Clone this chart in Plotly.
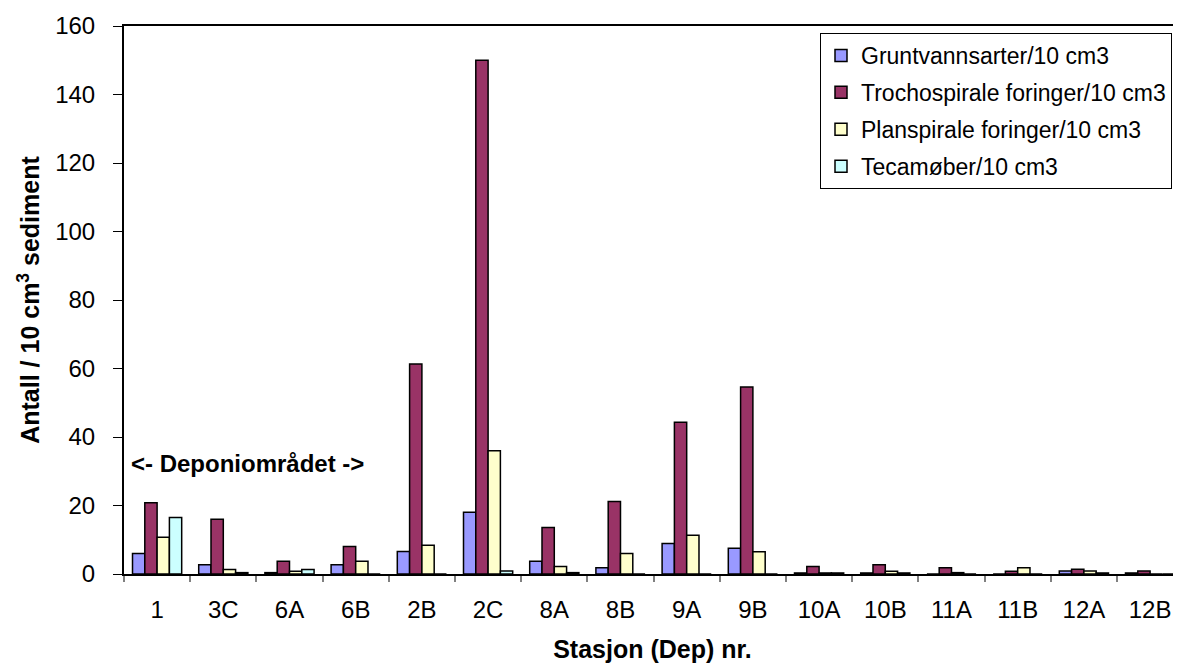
import plotly.graph_objects as go

categories = ["1", "3C", "6A", "6B", "2B", "2C", "8A", "8B", "9A", "9B",
              "10A", "10B", "11A", "11B", "12A", "12B"]
grunt = [6.0, 2.7, 0.4, 2.7, 6.6, 18.0, 3.7, 1.8, 8.9, 7.5, 0.3, 0.3, 0, 0, 0.9, 0.3]
trocho = [20.8, 16.0, 3.7, 8.0, 61.3, 150.0, 13.6, 21.2, 44.3, 54.6, 2.2, 2.7, 1.8, 0.8, 1.4, 0.9]
plan = [10.7, 1.3, 0.8, 3.7, 8.4, 36.0, 2.2, 6.0, 11.3, 6.5, 0.3, 0.8, 0.4, 1.8, 0.9, 0]
teca = [16.5, 0.4, 1.3, 0, 0, 0.9, 0.4, 0, 0, 0, 0.3, 0.3, 0, 0, 0.3, 0]

series = [
    ("Gruntvannsarter/10 cm3", grunt, "#9999FF"),
    ("Trochospirale foringer/10 cm3", trocho, "#993366"),
    ("Planspirale foringer/10 cm3", plan, "#FFFFCC"),
    ("Tecamøber/10 cm3", teca, "#CCFFFF"),
]

FONT = "Liberation Sans, Arial, sans-serif"

fig = go.Figure()
for i, (name, vals, col) in enumerate(series):
    fig.add_trace(go.Bar(
        x=categories, y=vals, name=name, legendgroup=f"g{i}",
        marker=dict(color=col, line=dict(color="black", width=1.5)),
    ))

fig.update_layout(
    width=1173, height=656,
    margin=dict(l=116, r=0, t=18, b=90, autoexpand=False),
    paper_bgcolor="white", plot_bgcolor="white",
    barmode="group", bargap=0.257, bargroupgap=0,
    font=dict(family=FONT, size=24, color="black"),
    showlegend=True,
    legend=dict(
        x=(1172 - 124) / 1057, xanchor="right", xref="paper",
        y=1.0 - 7 / 548, yanchor="top",
        bgcolor="white", bordercolor="black", borderwidth=1,
        font=dict(family=FONT, size=23, color="black"),
        traceorder="grouped", tracegroupgap=4,
    ),
    xaxis=dict(
        type="category", automargin=False,
        range=[-0.5, 15.467],
        showline=True, linecolor="black", linewidth=2, mirror=True,
        ticks="outside", tickson="boundaries", ticklen=6, tickcolor="#808080", tickwidth=2,
        showgrid=False, zeroline=False,
        tickfont=dict(family=FONT, size=24),
        ticklabelstandoff=13,
        title=dict(text="<b>Stasjon (Dep) nr.</b>", font=dict(family=FONT, size=25), standoff=19),
    ),
    yaxis=dict(
        range=[0, 160], dtick=20, automargin=False,
        showline=True, linecolor="black", linewidth=2,
        ticks="outside", ticklen=9, tickcolor="black", tickwidth=1,
        showgrid=False, zeroline=False,
        tickfont=dict(family=FONT, size=24),
        ticklabelstandoff=13,
        title=dict(text="<b>Antall / 10 cm<sup>3</sup> sediment</b>", font=dict(family=FONT, size=25), standoff=8),
    ),
    annotations=[dict(
        x=-0.43, y=32.3, xref="x", yref="y",
        text="<b>&lt;- Deponiområdet -&gt;</b>",
        showarrow=False, xanchor="left", yanchor="middle",
        font=dict(family=FONT, size=24, color="black"),
    )],
)

fig.write_html("out.html")
